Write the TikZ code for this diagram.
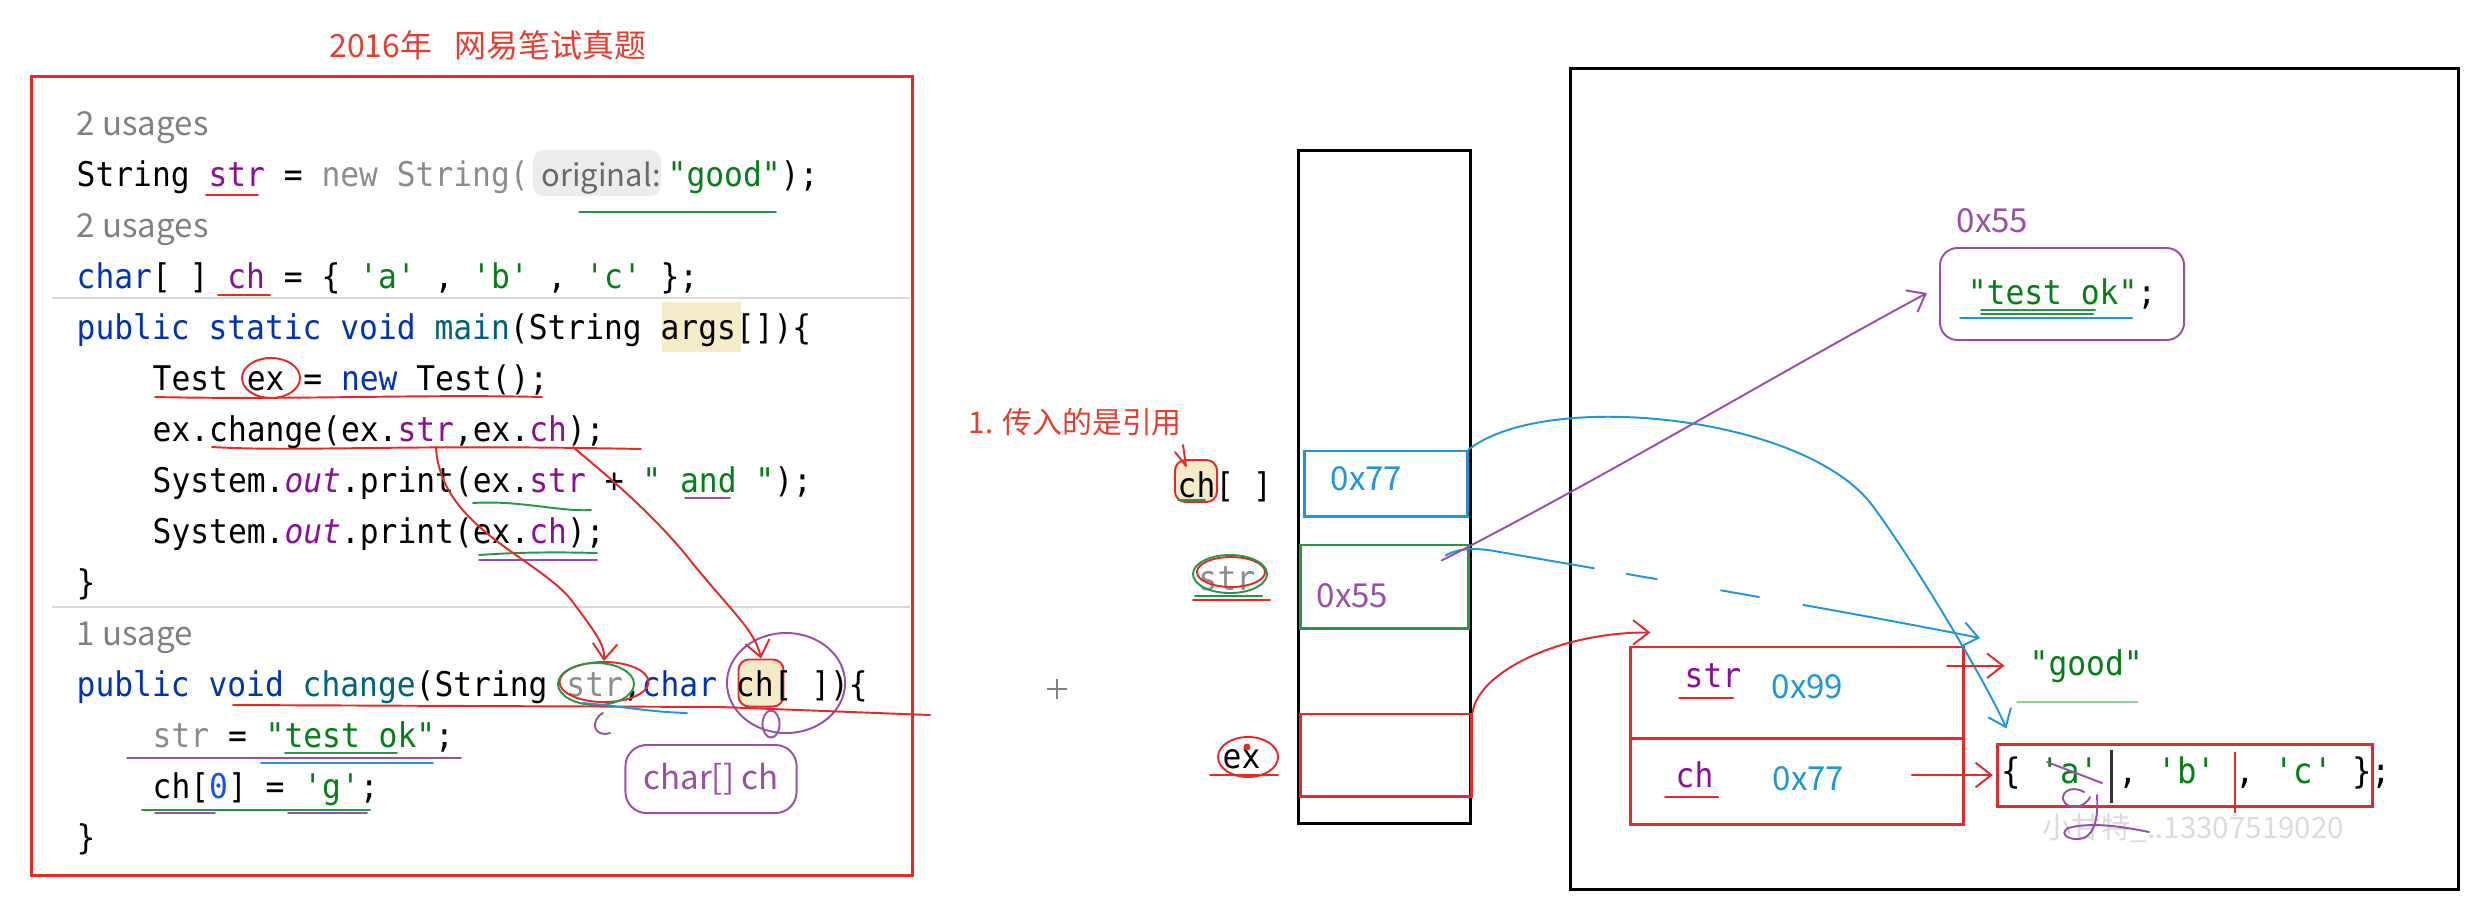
\documentclass[tikz,border=0pt]{standalone}
\usepackage{fontspec}
\setmainfont{Noto Sans CJK SC}
\setmonofont[FakeStretch=0.92]{DejaVu Sans Mono}
\usepackage{tikz}
\usetikzlibrary{arrows.meta, positioning, shapes.geometric}
\definecolor{penred}{RGB}{226,42,42}
\definecolor{titlered}{RGB}{228,62,50}
\definecolor{penblue}{RGB}{30,150,215}
\definecolor{pengreen}{RGB}{40,150,70}
\definecolor{penpurple}{RGB}{150,80,165}
\definecolor{idekw}{RGB}{0,51,179}
\definecolor{idefield}{RGB}{135,16,148}
\definecolor{idestr}{RGB}{6,125,23}
\definecolor{idenum}{RGB}{23,80,235}
\definecolor{idefn}{RGB}{0,98,122}
\definecolor{idedim}{RGB}{140,140,140}
\definecolor{hintgray}{RGB}{128,128,128}
\definecolor{inlaybg}{RGB}{236,236,236}
\definecolor{inlaytext}{RGB}{105,105,105}
\definecolor{hlbeige}{RGB}{246,235,200}

\begin{document}
\begin{tikzpicture}[
    x=0.01cm, y=-0.01cm,
    mono/.style={anchor=base west, inner sep=0pt, font=\ttfamily\fontsize{9.67pt}{11pt}\selectfont},
    hint/.style={anchor=base west, inner sep=0pt, text=hintgray, font=\fontsize{9.4pt}{11pt}\selectfont},
    addr/.style={anchor=base west, inner sep=0pt, font=\fontsize{9.4pt}{11pt}\selectfont},
    cell/.style={draw, line width=0.85pt, inner sep=0pt},
    pen/.style={line width=0.55pt, line cap=round, line join=round},
    arrow/.style={pen, -{Straight Barb[length=4.5pt, width=7pt]}},
    ring/.style={ellipse, draw, pen, inner sep=0pt},
    hl/.style={fill=hlbeige, draw=penred, pen, rounded corners=3pt, inner sep=0pt}
]
\useasboundingbox (0,0) rectangle (2489,905);

% Code panel
\node[text=titlered, font=\fontsize{9.1pt}{11pt}\selectfont] (title) at (488,45) {2016年\hspace{0.7em}网易笔试真题};
\node[cell, draw=penred, minimum width=8.8cm, minimum height=7.98cm] (codebox) at (472,476) {};
\draw[gray!30, line width=0.5pt] (52,298) -- (910,298);
\draw[gray!30, line width=0.5pt] (52,607) -- (910,607);

\fill[inlaybg, rounded corners=3pt] (533,150) rectangle (661,196);
\fill[hlbeige] (662,302) rectangle (741,352);
\node[hl, minimum width=0.45cm, minimum height=0.47cm] (pch) at (761,683) {};

\node[hint] (use1) at (76,135) {2 usages};
\node[mono] (line1) at (76,186) {String \textcolor{idefield}{str} = \textcolor{idedim}{new String(}};
\node[anchor=base west, inner sep=0pt, text=inlaytext, font=\fontsize{8.8pt}{11pt}\selectfont] (orig) at (541,186) {original:};
\node[mono] (line1b) at (667,186) {\textcolor{idestr}{"good"});};
\node[hint] (use2) at (76,237) {2 usages};
\node[mono] (line3) at (76,288) {\textcolor{idekw}{char}[ ] \textcolor{idefield}{ch} = \{ \textcolor{idestr}{'a'} , \textcolor{idestr}{'b'} , \textcolor{idestr}{'c'} \};};
\node[mono] (line4) at (76,339) {\textcolor{idekw}{public static void} \textcolor{idefn}{main}(String args[])\{};
\node[mono] (line5) at (152,390) {Test ex = \textcolor{idekw}{new} Test();};
\node[mono] (line6) at (152,441) {ex.change(ex.\textcolor{idefield}{str},ex.\textcolor{idefield}{ch});};
\node[mono] (line7) at (152,492) {System.\textcolor{idefield}{\itshape out}.print(ex.\textcolor{idefield}{str} + \textcolor{idestr}{" and "});};
\node[mono] (line8) at (152,543) {System.\textcolor{idefield}{\itshape out}.print(ex.\textcolor{idefield}{ch});};
\node[mono] (line9) at (76,594) {\}};
\node[hint] (use3) at (76,645) {1 usage};
\node[mono] (line11) at (76,696) {\textcolor{idekw}{public void} \textcolor{idefn}{change}(String \textcolor{idedim}{str},\textcolor{idekw}{char} ch[ ])\{};
\node[mono] (line12) at (152,747) {\textcolor{idedim}{str} = \textcolor{idestr}{"test ok"};};
\node[mono] (line13) at (152,798) {ch[\textcolor{idenum}{0}] = \textcolor{idestr}{'g'};};
\node[mono] (line14) at (76,849) {\}};

% Pen marks on the code
\draw[pen, penred] (206,195) -- (258,195);
\draw[pen, pengreen] (579,212) -- (776,212);
\draw[pen, penred] (218,295) -- (270,295);
\node[ring, draw=penred, minimum width=0.58cm, minimum height=0.40cm] (exring) at (271,378) {};
\draw[pen, penred] (155,397) .. controls (300,400) and (420,394) .. (542,397);
\draw[pen, penred] (212,447) .. controls (300,452) and (400,444) .. (641,449);
\draw[pen, pengreen] (473,503) .. controls (520,500) and (560,512) .. (591,510);
\draw[pen, penpurple] (685,498) -- (730,498);
\draw[pen, pengreen] (479,555) .. controls (520,552) and (560,552) .. (597,553);
\draw[pen, penpurple] (479,560) -- (597,560);
\node[ring, draw=penred, minimum width=0.89cm, minimum height=0.40cm] (pstr) at (604,682) {};
\node[ring, draw=pengreen, minimum width=0.76cm, minimum height=0.42cm] (pstrg) at (596,684) {};
\node[ring, draw=penpurple, minimum width=1.18cm, minimum height=1.0cm] (pchring) at (786,683) {};
\draw[pen, penred] (233,705) -- (720,707) -- (930,715);
\draw[pen, penblue] (583,703) .. controls (620,706) and (650,712) .. (687,713);
\draw[pen, penpurple] (603,713) .. controls (590,720) and (593,738) .. (610,733);
\node[ring, draw=penpurple, minimum width=0.17cm, minimum height=0.27cm] (chloop) at (771,724) {};
\draw[pen, penpurple] (127,758) -- (461,758);
\draw[pen, penblue] (261,763) -- (433,763);
\draw[pen, pengreen] (285,753) -- (397,753);
\draw[pen, pengreen] (142,810) -- (370,810);
\draw[pen, penpurple] (155,813) -- (215,813);
\draw[pen, penpurple] (288,813) -- (367,813);
\node[draw=penpurple, pen, rounded corners=6pt, minimum width=1.71cm, minimum height=0.68cm, text=penpurple, font=\fontsize{9.4pt}{11pt}\selectfont] (typebox) at (711,779) {char[] ch};

% Argument passing
\coordinate (callstr) at (436,447);
\coordinate (callch) at (573,447);
\draw[arrow, penred] (callstr) .. controls (440,530) and (545,560) .. (575,605) .. controls (595,632) and (605,645) .. (pstr.north);
\draw[arrow, penred] (callch) .. controls (600,470) and (650,510) .. (690,560) .. controls (730,610) and (755,630) .. (pch.north);

\node[text=titlered, anchor=west, inner sep=0pt, font=\fontsize{8.5pt}{10pt}\selectfont] (remark) at (968,422) {1. 传入的是引用};
\draw[gray, line width=0.4pt] (1047,689) -- (1067,689) (1057,679) -- (1057,699);

% Stack
\node[cell, minimum width=1.71cm, minimum height=6.72cm] (stack) at (1384.5,487) {};
\node[cell, draw=penblue, minimum width=1.62cm, minimum height=0.65cm] (b77) at (1386,483.5) {};
\node[cell, draw=pengreen, minimum width=1.67cm, minimum height=0.83cm] (s55) at (1384.5,586.5) {};
\node[cell, draw=penred, minimum width=1.70cm, minimum height=0.82cm] (exbox) at (1386,755) {};
\node[addr, text=penblue] (v77) at (1330,490) {0x77};
\node[addr, text=penpurple] (v55) at (1316,607) {0x55};

\node[hl, minimum width=0.42cm, minimum height=0.42cm] (lchhl) at (1196,481) {};
\node[mono] (lch) at (1177,497) {ch[ ]};
\draw[pen, penred] (1175,452) -- (1186,466) (1183,445) -- (1186,466);
\draw[pen, pengreen] (1178,500) -- (1205,500);
\node[mono, text=idedim] (lstr) at (1198,590) {str};
\node[ring, draw=penred, minimum width=0.68cm, minimum height=0.30cm] (lstrr) at (1231,572) {};
\node[ring, draw=pengreen, minimum width=0.74cm, minimum height=0.38cm] (lstrg) at (1230,574) {};
\draw[pen, penred] (1193,600) -- (1270,600);
\draw[pen, pengreen] (1195,596) -- (1262,596);
\node[mono] (lex) at (1222,768) {ex};
\node[ring, draw=penred, minimum width=0.60cm, minimum height=0.40cm] (lexr) at (1248,757) {};
\draw[pen, penred] (1210,775) -- (1278,775);
\fill[penred] (1247,747) circle (1pt);

% Heap
\node[cell, minimum width=8.87cm, minimum height=8.20cm] (heap) at (2014.5,479) {};
\node[addr, text=penpurple] (a55) at (1956,232) {0x55};
\node[draw=penpurple, pen, rounded corners=5pt, minimum width=2.44cm, minimum height=0.92cm, inner sep=0pt, font=\ttfamily\fontsize{9.67pt}{11pt}\selectfont] (testok) at (2062,294) {\textcolor{idestr}{"test ok"};};
\draw[pen, pengreen] (1981,310) -- (2095,310) (1981,314) -- (2093,314);
\draw[pen, penblue] (1960,318) -- (2132,318);

\node[cell, draw=penred, minimum width=3.32cm, minimum height=0.91cm] (fstr) at (1797,692.5) {};
\node[cell, draw=penred, minimum width=3.32cm, minimum height=0.86cm] (fch) at (1797,781) {};
\node[mono, text=idefield] (nstr) at (1684,687) {str};
\draw[pen, penred] (1679,698) -- (1733,698);
\node[addr, text=penblue] (v99) at (1771,698) {0x99};
\node[mono, text=idefield] (nch) at (1675,787) {ch};
\draw[pen, penred] (1665,797) -- (1718,797);
\node[addr, text=penblue] (v77b) at (1772,790) {0x77};

\node[mono, text=idestr] (good) at (2029,675) {"good"};
\draw[pen, pengreen!50] (2017,702) -- (2137,702);

\node[cell, draw=penred, minimum width=3.74cm, minimum height=0.62cm] (arr) at (2185,775) {};
\draw[line width=0.85pt, black!80] (2111,750) -- (2111,803);
\draw[line width=0.75pt, penred] (2235,752) -- (2235,813);
\node[mono, font=\ttfamily\fontsize{10pt}{12pt}\selectfont] (chars) at (2001,783) {\{ \textcolor{idestr}{'a'} , \textcolor{idestr}{'b'} , \textcolor{idestr}{'c'} \};};
\node[text=gray!28, font=\fontsize{8.4pt}{10pt}\selectfont] (mark) at (2193,828) {小甘特\_..13307519020};
\draw[pen, penpurple] (2047,762) -- (2102,783);
\draw[pen, penpurple] (2084,792) .. controls (2070,784) and (2058,794) .. (2065,803) .. controls (2072,811) and (2086,806) .. (2090,797)
    (2097,795) .. controls (2098,815) and (2096,832) .. (2084,838) .. controls (2070,842) and (2058,834) .. (2068,828) .. controls (2090,822) and (2120,826) .. (2149,832);

% References
\draw[arrow, penblue] (b77.north east) .. controls (1500,425) and (1560,415) .. (1624,417)
    .. controls (1720,420) and (1830,450) .. (1872,505)
    .. controls (1920,570) and (1990,690) .. ([shift={(10,-14)}]arr.north west);
\draw[arrow, penblue, dash pattern=on 43pt off 9.4pt on 8.7pt off 18.5pt on 11pt off 12.8pt on 80pt]
    ([shift={(-24,12)}]s55.north east) .. controls (1460,547) and (1480,548) .. (1500,552)
    .. controls (1650,578) and (1850,612) .. ([shift={(-49,-37)}]good.base west);
\draw[arrow, penpurple] ([shift={(-28,17)}]s55.north east) .. controls (1600,480) and (1780,372) .. ([shift={(-12,-1)}]testok.west);
\draw[arrow, penred] (exbox.north east) .. controls (1478,672) and (1560,632) .. ([shift={(21,-13)}]fstr.north west);
\draw[arrow, penred] ([xshift=-5pt]fstr.east |- good.west) -- ([xshift=-7pt]good.west);
\draw[arrow, penred] ([xshift=-15pt]fch.east |- arr.west) -- ([xshift=-1pt]arr.west);
\end{tikzpicture}
\end{document}
